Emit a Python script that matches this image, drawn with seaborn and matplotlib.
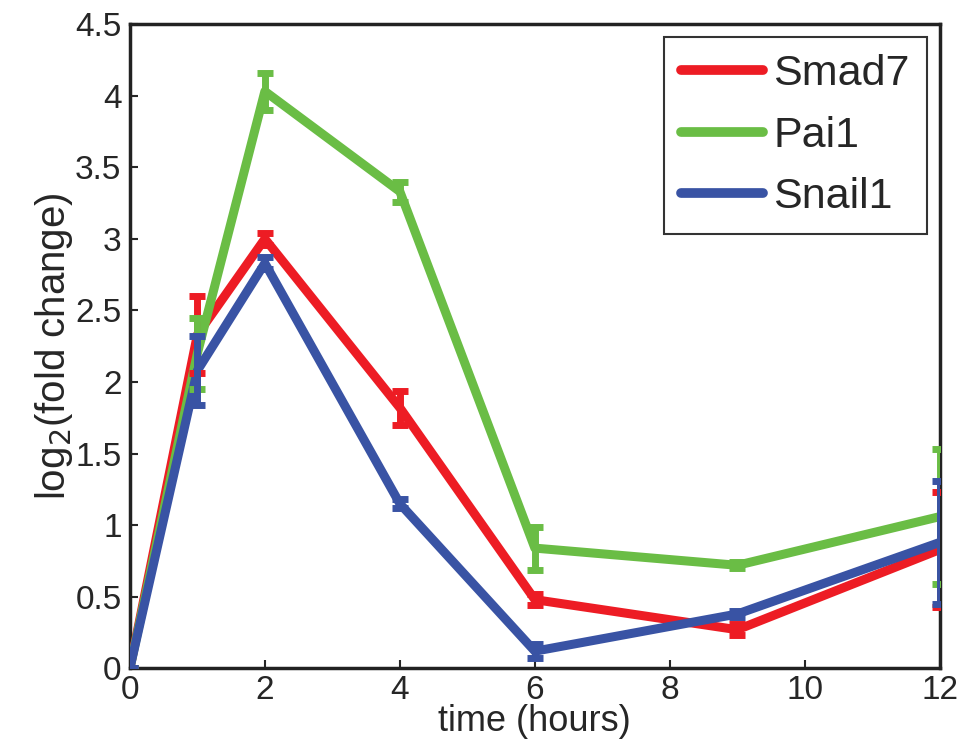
import numpy as np
import pandas as pd
import seaborn as sns
import matplotlib.pyplot as plt

# values
time = [0, 1, 2, 4, 6, 9, 12]
smad7 = [0, 2.33, 3.0, 1.82, 0.48, 0.27, 0.83]
smad7_err = [0, 0.27, 0.04, 0.12, 0.04, 0.04, 0.40]
pai1 = [0, 2.2, 4.03, 3.33, 0.84, 0.72, 1.06]
pai1_err = [0, 0.25, 0.13, 0.07, 0.15, 0.02, 0.47]
snail1 = [0, 2.08, 2.83, 1.15, 0.12, 0.38, 0.88]
snail1_err = [0, 0.24, 0.04, 0.03, 0.05, 0.02, 0.43]

genes = ['Smad7', 'Pai1', 'Snail1']
colors = ['#ED1C24', '#6ABD45', '#3953A4']

df = pd.DataFrame({
    'time': time * 3,
    'value': smad7 + pai1 + snail1,
    'err': smad7_err + pai1_err + snail1_err,
    'gene': np.repeat(genes, len(time)),
})

sns.set_style('white')
plt.rcParams['font.family'] = ['Liberation Sans', 'DejaVu Sans']

fig = plt.figure(figsize=(9.62, 7.51), dpi=100)
ax = fig.add_axes([0.135, 0.11, 0.842, 0.858])

sns.lineplot(data=df, x='time', y='value', hue='gene', hue_order=genes,
             palette=colors, linewidth=6.5, ax=ax, legend=False, zorder=3)

for g, c in zip(genes, colors):
    d = df[df['gene'] == g]
    ax.errorbar(d['time'], d['value'], yerr=d['err'], fmt='none',
                ecolor=c, elinewidth=5, capsize=6, capthick=5, zorder=3)

ax.set_xlim(0, 12)
ax.set_ylim(0, 4.5)
ax.set_xticks([0, 2, 4, 6, 8, 10, 12])
ax.set_yticks(np.arange(0, 4.51, 0.5))
ax.set_yticklabels(['0', '0.5', '1', '1.5', '2', '2.5', '3', '3.5', '4', '4.5'])
ax.tick_params(direction='in', length=6, width=1.5, labelsize=24,
               bottom=True, left=True)
ax.tick_params(axis='x', pad=5)
ax.tick_params(axis='y', pad=6)
for s in ax.spines.values():
    s.set_linewidth(2.5)
    s.set_color('#222222')

ax.set_xlabel('time (hours)', fontsize=26, labelpad=-2)
ax.set_ylabel('log$_2$(fold change)', fontsize=29, labelpad=0)

handles = [plt.Line2D([], [], color=c, linewidth=7) for c in colors]
leg = ax.legend(handles, genes, loc='upper right', fontsize=31,
                frameon=True, fancybox=False, edgecolor='black',
                handlelength=1.9, handletextpad=0.25, borderpad=0.4,
                labelspacing=0.5, borderaxespad=0.3)
leg.get_frame().set_linewidth(1.5)

fig.savefig('out.png', dpi=100)
